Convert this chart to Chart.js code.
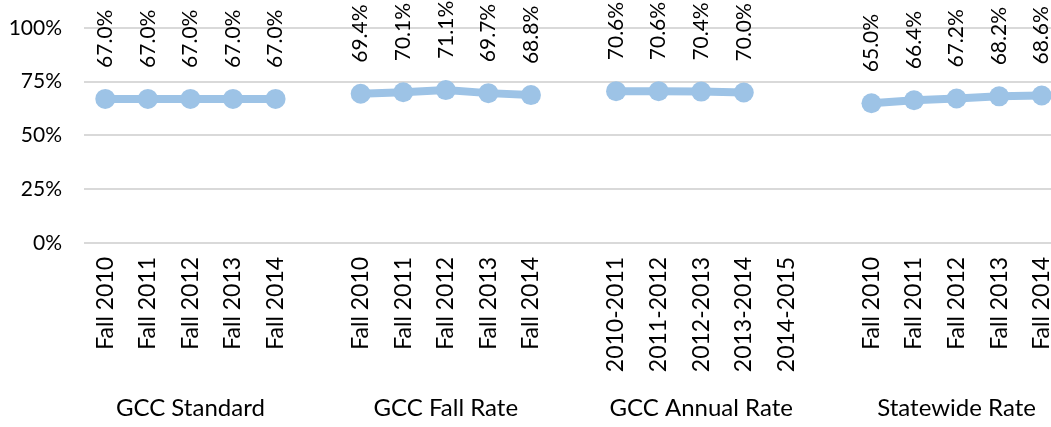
<!DOCTYPE html>
<html>
<head>
<meta charset="utf-8">
<script src="https://cdn.jsdelivr.net/npm/chart.js@4"></script>
<style>
  html, body { margin: 0; padding: 0; background: #fff; overflow: hidden; }
  #wrap { position: relative; width: 1073px; height: 427px; }
</style>
</head>
<body>
<div id="wrap"><canvas id="rateChart"></canvas></div>
<script>
// Categories (blank slots separate the groups)
const periods = [
  'Fall 2010', 'Fall 2011', 'Fall 2012', 'Fall 2013', 'Fall 2014', '',
  'Fall 2010', 'Fall 2011', 'Fall 2012', 'Fall 2013', 'Fall 2014', '',
  '2010-2011', '2011-2012', '2012-2013', '2013-2014', '2014-2015', '',
  'Fall 2010', 'Fall 2011', 'Fall 2012', 'Fall 2013', 'Fall 2014'
];
const groupNames = ['GCC Standard', 'GCC Fall Rate', 'GCC Annual Rate', 'Statewide Rate'];
const groupCenter = [2, 8, 14, 20]; // index of the middle slot of each group

// Rates in percent (null = no value / gap)
const gccStandard = [67.0, 67.0, 67.0, 67.0, 67.0];
const gccFall = [69.4, 70.1, 71.1, 69.7, 68.8];
const gccAnnual = [70.6, 70.6, 70.4, 70.0, null];
const statewide = [65.0, 66.4, 67.2, 68.2, 68.6];

const yTicks = [0, 25, 50, 75, 100];

const rates = [...gccStandard, null, ...gccFall, null, ...gccAnnual, null, ...statewide];
const groupLabels = periods.map((p, i) => {
  const g = groupCenter.indexOf(i);
  return g >= 0 ? groupNames[g] : '';
});

const FONT = 'Lato, "Liberation Sans", sans-serif';

// Draw the value labels rotated above each point
const valueLabels = {
  id: 'valueLabels',
  afterDatasetsDraw(chart) {
    const ctx = chart.ctx;
    const meta = chart.getDatasetMeta(0);
    ctx.save();
    ctx.font = '21px ' + FONT;
    ctx.fillStyle = '#000';
    ctx.textAlign = 'left';
    ctx.textBaseline = 'middle';
    meta.data.forEach((pt, i) => {
      const v = rates[i];
      if (v === null || v === undefined) return;
      ctx.save();
      ctx.translate(pt.x, pt.y - 31);
      ctx.rotate(-Math.PI / 2);
      ctx.fillText(v.toFixed(1) + '%', 0, 0);
      ctx.restore();
    });
    ctx.restore();
  }
};

// keep the axes from pushing the plot area around
const noSidePadding = axis => { axis.paddingLeft = 0; axis.paddingRight = 0; };

const ctx = document.getElementById('rateChart').getContext('2d');
new Chart(ctx, {
  type: 'line',
  data: {
    labels: periods,
    datasets: [{
      data: rates,
      borderColor: '#9dc3e6',
      backgroundColor: '#9dc3e6',
      borderWidth: 8,
      pointRadius: 10,
      pointBorderWidth: 0,
      pointBackgroundColor: '#9dc3e6',
      spanGaps: false,
      tension: 0
    }]
  },
  options: {
    responsive: true,
    maintainAspectRatio: false,
    animation: false,
    layout: { padding: { top: 28, left: 8, right: 0, bottom: -4 } },
    plugins: {
      legend: { display: false },
      tooltip: { enabled: false }
    },
    scales: {
      x: {
        type: 'category',
        offset: true,
        weight: 0,
        afterFit: noSidePadding,
        grid: { display: false, drawTicks: false },
        border: { display: false },
        ticks: {
          autoSkip: false,
          minRotation: 90,
          maxRotation: 90,
          padding: 14,
          color: '#000',
          font: { family: FONT, size: 23 }
        }
      },
      x2: {
        type: 'category',
        labels: groupLabels,
        position: 'bottom',
        offset: true,
        weight: 1,
        afterFit: noSidePadding,
        grid: { display: false, drawTicks: false },
        border: { display: false },
        ticks: {
          autoSkip: false,
          minRotation: 0,
          maxRotation: 0,
          padding: 8,
          color: '#000',
          font: { family: FONT, size: 24 }
        }
      },
      y: {
        min: 0,
        max: 100,
        afterBuildTicks(axis) { axis.ticks = yTicks.map(v => ({ value: v })); },
        afterFit(axis) { axis.width = 76; axis.paddingTop = 0; axis.paddingBottom = 0; },
        grid: { color: '#d9d9d9', lineWidth: 2, drawTicks: false },
        border: { display: false },
        ticks: {
          padding: 22,
          color: '#000',
          font: { family: FONT, size: 21 },
          callback: v => v + '%'
        }
      }
    }
  },
  plugins: [valueLabels]
});
</script>
</body>
</html>
